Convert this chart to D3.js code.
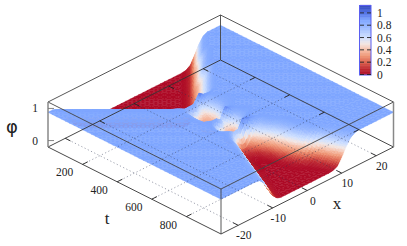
<!DOCTYPE html>
<html>
  <head>
    <meta charset="utf-8" />
    <title>phi surface</title>
    <script src="https://cdnjs.cloudflare.com/ajax/libs/d3/7.8.5/d3.min.js"></script>
    <style>
      html, body { margin: 0; padding: 0; background: #fff; }
      svg { display: block; }
      text { font-family: "Liberation Serif", serif; fill: #222; }
    </style>
  </head>
  <body>
    <div id="chart"></div>
    <script>
      // phi, in percent. One row per t, one column per x.
      const xValues = [-25,-23.75,-22.5,-21.25,-20,-18.75,-17.5,-16.25,-15,-13.75,-12.5,-11.25,-10,-8.75,-7.5,-6.25,-5,-3.75,-2.5,-1.25,0,1.25,2.5,3.75,5,6.25,7.5,8.75,10,11.25,12.5,13.75,15,16.25,17.5,18.75,20,21.25,22.5,23.75,25];
      const tValues = [0,25,50,75,100,125,150,175,200,225,250,275,300,325,350,375,400,425,450,475,500,525,550,575,600,625,650,675,700,725,750,775,800,850,900,950,1000];
      const phiRows = [
        [88,88,82,66,44,30,12,2,0,0,0,0,0,0,0,0,0,0,0,0,0,0,0,0,0,0,0,0,0,0,0,0,2,11,36,63,82,88,88,88,88],
        [88,88,88,82,64,40,20,6,1,0,0,0,0,0,0,0,0,0,0,0,0,0,0,0,0,0,0,0,0,0,0,2,11,36,63,82,88,88,88,88,88],
        [88,88,88,88,82,63,36,11,2,0,0,0,0,0,0,0,0,0,0,0,0,0,0,0,0,0,0,0,0,0,2,11,36,63,82,88,88,88,88,88,88],
        [88,88,88,88,88,82,63,36,11,2,0,0,0,0,0,0,0,0,0,0,0,0,0,0,0,0,0,0,0,2,11,36,63,82,88,88,88,88,88,88,88],
        [88,88,88,88,88,88,82,63,36,11,2,0,0,0,0,0,0,0,0,0,0,0,0,0,0,0,0,0,2,11,32,52,72,84,88,88,88,88,88,88,88],
        [88,88,88,88,88,88,88,82,63,36,11,2,0,0,0,0,0,0,0,0,0,0,0,0,0,0,0,2,11,32,52,72,84,88,88,88,88,88,88,88,88],
        [88,88,88,88,88,88,88,88,82,63,36,11,2,0,0,0,0,0,0,0,0,0,0,0,0,0,2,11,32,52,72,84,88,88,88,88,88,88,88,88,88],
        [88,88,88,88,88,88,88,88,88,82,63,36,11,2,0,0,0,0,0,0,0,0,0,0,0,2,11,32,52,72,84,88,88,88,88,88,88,88,88,88,88],
        [88,88,88,88,88,88,88,88,88,88,82,63,36,11,2,0,0,0,0,0,0,0,0,0,2,11,28,42,56,70,82,88,88,88,88,88,88,88,88,88,88],
        [88,88,88,88,88,88,88,88,88,88,88,82,63,36,11,2,0,0,0,0,0,0,0,2,11,28,42,56,70,82,88,88,88,88,88,88,88,88,88,88,88],
        [88,88,88,88,88,88,88,88,88,88,88,88,82,63,36,11,2,0,0,0,0,0,2,11,28,42,56,70,82,88,88,88,88,88,88,88,88,88,88,88,88],
        [88,88,88,88,88,88,88,88,88,88,88,88,88,82,63,36,11,2,0,0,0,2,11,28,42,56,70,82,88,88,88,88,88,88,88,88,88,88,88,88,88],
        [88,88,88,88,88,88,88,88,88,88,88,88,88,88,82,63,36,11,2,0,2,11,28,42,56,70,82,88,88,88,88,88,88,88,88,88,88,88,88,88,88],
        [88,88,88,88,88,88,88,88,88,88,88,88,88,88,88,82,63,36,11,3,11,28,42,56,70,82,88,88,88,88,88,88,88,88,88,88,88,88,88,88,88],
        [88,88,88,88,88,88,88,88,88,88,88,88,88,88,88,88,85,72,55,52,80,100,90,88,88,88,88,88,88,88,88,88,88,88,88,88,88,88,88,88,88],
        [88,88,88,88,88,88,88,88,88,88,88,88,88,88,88,88,88,84,87,88,62,55,76,86,88,88,88,88,88,88,88,88,88,88,88,88,88,88,88,88,88],
        [88,88,88,88,88,88,88,88,88,88,88,88,88,88,88,88,84,66,50,42,36,40,68,84,87,88,88,88,88,88,88,88,88,88,88,88,88,88,88,88,88],
        [88,88,88,88,88,88,88,88,88,88,88,88,88,88,88,88,84,52,34,30,30,38,62,82,86,88,88,88,88,88,88,88,88,88,88,88,88,88,88,88,88],
        [88,88,88,88,88,88,88,88,88,88,88,88,88,88,88,88,82,46,28,22,24,38,68,84,87,88,88,88,88,88,88,88,88,88,88,88,88,88,88,88,88],
        [88,88,88,88,88,88,88,88,88,88,88,88,88,88,88,88,82,48,30,24,28,56,82,86,88,88,88,88,88,88,88,88,88,88,88,88,88,88,88,88,88],
        [88,88,88,88,88,88,88,88,88,88,88,88,88,88,88,88,84,56,38,34,66,98,90,88,88,88,88,88,88,88,88,88,88,88,88,88,88,88,88,88,88],
        [88,88,88,88,88,88,88,88,88,88,88,88,88,88,88,88,88,88,88,78,50,52,82,87,88,88,88,88,88,88,88,88,88,88,88,88,88,88,88,88,88],
        [88,88,88,88,88,88,88,88,88,88,88,88,88,88,88,88,86,60,42,34,30,38,72,85,87,88,88,88,88,88,88,88,88,88,88,88,88,88,88,88,88],
        [88,88,88,88,88,88,88,88,88,88,88,88,88,88,88,88,80,50,32,24,26,44,78,86,88,88,88,88,88,88,88,88,88,88,88,88,88,88,88,88,88],
        [88,88,88,88,88,88,88,88,88,88,88,88,88,88,88,88,80,50,32,28,42,88,90,88,88,88,88,88,88,88,88,88,88,88,88,88,88,88,88,88,88],
        [88,88,88,88,88,88,88,88,88,88,88,88,88,88,88,88,86,82,74,76,100,98,90,88,88,88,88,88,88,88,88,88,88,88,88,88,88,88,88,88,88],
        [88,88,88,88,88,88,88,88,88,88,88,88,88,88,88,88,84,66,35,18,18,36,60,78,86,88,88,88,88,88,88,88,88,88,88,88,88,88,88,88,88],
        [88,88,88,88,88,88,88,88,88,88,88,88,88,88,88,86,70,44,20,8,10,26,50,72,84,88,88,88,88,88,88,88,88,88,88,88,88,88,88,88,88],
        [88,88,88,88,88,88,88,88,88,88,88,88,88,88,88,81,62,35,10,2,1,8,29,54,75,85,88,88,88,88,88,88,88,88,88,88,88,88,88,88,88],
        [88,88,88,88,88,88,88,88,88,88,88,88,88,88,85,74,48,21,5,1,1,4,17,42,66,81,87,88,88,88,88,88,88,88,88,88,88,88,88,88,88],
        [88,88,88,88,88,88,88,88,88,88,88,88,88,88,82,63,36,11,2,0,0,2,10,32,57,77,86,88,88,88,88,88,88,88,88,88,88,88,88,88,88],
        [88,88,88,88,88,88,88,88,88,88,88,88,88,86,74,49,22,5,1,0,0,1,6,24,49,72,84,88,88,88,88,88,88,88,88,88,88,88,88,88,88],
        [88,88,88,88,88,88,88,88,88,88,88,88,88,82,64,37,11,2,0,0,0,0,3,17,41,66,81,87,88,88,88,88,88,88,88,88,88,88,88,88,88],
        [88,88,88,88,88,88,88,88,88,88,88,88,83,65,38,12,2,0,0,0,0,0,1,4,20,44,68,82,88,88,88,88,88,88,88,88,88,88,88,88,88],
        [88,88,88,88,88,88,88,88,88,88,88,84,68,41,14,3,0,0,0,0,0,0,0,0,1,6,24,49,72,84,88,88,88,88,88,88,88,88,88,88,88],
        [88,88,88,88,88,88,88,88,88,88,84,69,41,15,3,0,0,0,0,0,0,0,0,0,0,1,7,27,52,74,85,88,88,88,88,88,88,88,88,88,88],
        [88,88,88,88,88,88,88,88,88,85,71,45,18,4,0,0,0,0,0,0,0,0,0,0,0,0,2,9,30,55,76,85,88,88,88,88,88,88,88,88,88]
      ];

      const tTicks = [200, 400, 600, 800];
      const xTicks = [-20, -10, 0, 10, 20];
      const zTicks = [0, 1];
      const barTicks = [0, 0.2, 0.4, 0.6, 0.8, 1];
      const paletteStops = [0, 0.1, 0.2, 0.3, 0.4, 0.5, 0.6, 0.8, 0.88, 1, 1.12];
      const paletteColors = ["#ad0a26", "#c02a30", "#db5f4b", "#ee9473", "#f6bda6", "#f3e6e2", "#cfe0ff", "#8fb2ff", "#7fa6ff", "#4f70e6", "#2f45b8"];

      const width = 407, height = 246;
      const svg = d3.select("#chart").append("svg").attr("width", width).attr("height", height);

      // box corners on screen: left (48,147), front (221,234), right (393,147), back (221,60), 45px tall
      const tFrac = d3.scaleLinear().domain([0, 1000]).range([0, 1]);
      const xFrac = d3.scaleLinear().domain([-25, 25]).range([0, 1]);
      const zFrac = d3.scaleLinear().domain([-0.2, 1.2]).range([0, 1]);
      const project = (t, x, z) => [
        48 + 173 * tFrac(t) + 172.5 * xFrac(x),
        147 + 87 * tFrac(t) - 87 * xFrac(x) - 45 * zFrac(z),
      ];
      const color = d3.scaleLinear().domain(paletteStops).range(paletteColors).clamp(true);
      const line = d3.line();

      const vertex = (r, c) => ({ t: tValues[r], x: xValues[c], phi: phiRows[r][c] / 100 });
      const mid = (a, b) => ({ t: (a.t + b.t) / 2, x: (a.x + b.x) / 2, phi: (a.phi + b.phi) / 2 });
      const tris = [];
      // split sloped triangles so the colour steps stay small, flat ones stay whole
      const addTri = (a, b, c, depth) => {
        if (depth === 0 || (a.phi === b.phi && b.phi === c.phi)) {
          tris.push([a, b, c]);
          return;
        }
        const ab = mid(a, b), bc = mid(b, c), ca = mid(c, a);
        addTri(a, ab, ca, depth - 1);
        addTri(ab, b, bc, depth - 1);
        addTri(ca, bc, c, depth - 1);
        addTri(ab, bc, ca, depth - 1);
      };

      // back-to-front so the near walls hide what is behind them
      for (let r = 0; r < tValues.length - 1; r++) {
        for (let c = xValues.length - 2; c >= 0; c--) {
          const farL = vertex(r, c), farR = vertex(r, c + 1), nearL = vertex(r + 1, c), nearR = vertex(r + 1, c + 1);
          // cut each cell along the diagonal where phi changes least, that follows the moving walls
          if (Math.abs(farL.phi - nearR.phi) <= Math.abs(farR.phi - nearL.phi)) {
            addTri(farL, farR, nearR, 2);
            addTri(farL, nearR, nearL, 2);
          } else {
            addTri(farL, farR, nearL, 2);
            addTri(farR, nearR, nearL, 2);
          }
        }
      }

      const triFill = (q) => color(d3.mean(q, (d) => d.phi));
      svg.append("g").selectAll("path").data(tris).join("path")
        .attr("d", (q) => line(q.map((d) => project(d.t, d.x, d.phi))) + "Z")
        .attr("fill", triFill)
        .attr("stroke", triFill)
        .attr("stroke-width", 0.4);

      // dotted grid on the floor, it shows through the surface
      const grid = svg.append("g").attr("fill", "none").attr("stroke", "#2c3350").attr("stroke-width", 0.7).attr("stroke-dasharray", "1.2 2.4").attr("opacity", 0.65);
      tTicks.forEach((t) => grid.append("path").attr("d", line([project(t, -25, -0.2), project(t, 25, -0.2)])));
      xTicks.forEach((x) => grid.append("path").attr("d", line([project(0, x, -0.2), project(1000, x, -0.2)])));

      // box edges
      const edge = (a, b, stroke, w) => svg.append("path").attr("d", line([a, b])).attr("stroke", stroke).attr("stroke-width", w).attr("fill", "none");
      const zLo = -0.2, zHi = 1.2;
      [[0, -25], [1000, -25], [1000, 25], [0, 25]].forEach((p, i, all) => {
        const n = all[(i + 1) % 4];
        edge(project(p[0], p[1], zLo), project(n[0], n[1], zLo), "#333", 0.9);
        edge(project(p[0], p[1], zHi), project(n[0], n[1], zHi), "#444", 0.9);
      });
      edge(project(0, 25, zLo), project(0, 25, zHi), "#444", 0.9);
      edge(project(1000, -25, zLo), project(1000, -25, zHi), "#444", 0.9);
      edge(project(0, -25, zLo), project(0, -25, zHi), "#888", 1.5);
      edge(project(1000, 25, zLo), project(1000, 25, zHi), "#888", 1.5);

      // ticks, pointing into the box
      tTicks.forEach((t) => {
        edge(project(t, -25, zLo), project(t, -23.5, zLo), "#222", 0.9);
        edge(project(t, 25, zLo), project(t, 23.5, zLo), "#222", 0.9);
      });
      xTicks.forEach((x) => {
        edge(project(0, x, zLo), project(30, x, zLo), "#222", 0.9);
        edge(project(1000, x, zLo), project(970, x, zLo), "#222", 0.9);
      });
      zTicks.forEach((z) => {
        const p = project(0, -25, z);
        edge(p, [p[0] + 6, p[1]], "#777", 0.9);
      });

      const label = (x, y, s, size) => svg.append("text").attr("x", x).attr("y", y).attr("text-anchor", "middle").attr("font-size", size).text(s);
      tTicks.forEach((t) => {
        const p = project(t, -25, zLo);
        label(p[0] - 18, p[1] + 12, t, 11.5);
      });
      xTicks.forEach((x) => {
        const p = project(1000, x, zLo);
        label(p[0] + 5.5, p[1] + 14, x, 11.5);
      });
      zTicks.forEach((z) => {
        const p = project(0, -25, z);
        label(p[0] - 13, p[1] + 4, z, 11.5);
      });
      label(107, 224, "t", 17);
      label(337, 209, "x", 17);
      svg.append("text").attr("x", 12).attr("y", 133).attr("text-anchor", "middle").attr("font-size", 18).style("font-family", "'DejaVu Sans', sans-serif").text("φ");

      // colour bar
      const barY = d3.scaleLinear().domain([0, 1.12]).range([74.5, 5.5]);
      svg.append("g").selectAll("rect").data(d3.range(0, 1.12, 0.01)).join("rect")
        .attr("x", 360).attr("width", 11)
        .attr("y", (d) => barY(d + 0.01)).attr("height", (d) => barY(d) - barY(d + 0.01) + 0.4)
        .attr("fill", (d) => color(d));
      svg.append("rect").attr("x", 359.5).attr("y", 5.5).attr("width", 11.5).attr("height", 69.5).attr("fill", "none").attr("stroke", "#5a5ff0").attr("stroke-width", 1);
      barTicks.forEach((v) => {
        edge([360, barY(v)], [364, barY(v)], "#222", 0.9);
        edge([367, barY(v)], [371, barY(v)], "#222", 0.9);
        svg.append("text").attr("x", 377).attr("y", barY(v) + 4).attr("font-size", 11.5).text(v);
      });
    </script>
  </body>
</html>
